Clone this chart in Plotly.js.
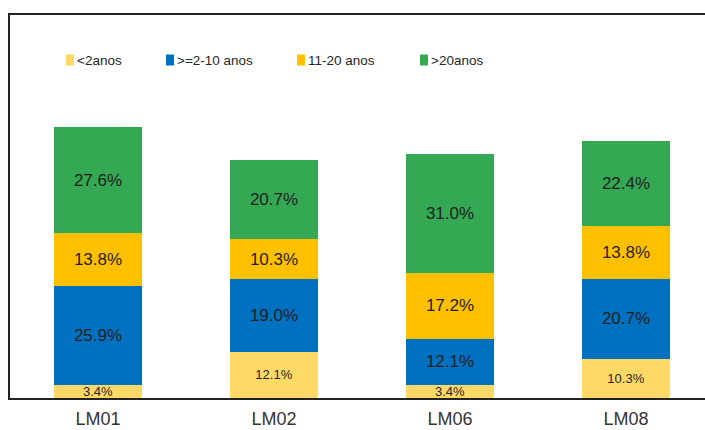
<!DOCTYPE html>
<html>
<head>
<meta charset="utf-8">
<script src="https://cdn.plot.ly/plotly-3.0.1.min.js"></script>
<style>
  html, body { margin: 0; padding: 0; background: #ffffff; }
  #chart { width: 705px; height: 430px; }
</style>
</head>
<body>
<div id="chart"></div>
<script>
// Sites and the share of staff in each length-of-service band (%)
const sites = ['LM01', 'LM02', 'LM06', 'LM08'];
const seriesNames = ['<2anos', '>=2-10 anos', '11-20 anos', '>20anos'];
const under2 = [3.4, 12.1, 3.4, 10.3];
const from2to10 = [25.9, 19.0, 12.1, 20.7];
const from11to20 = [13.8, 10.3, 17.2, 13.8];
const over20 = [27.6, 20.7, 31.0, 22.4];

const seriesValues = [under2, from2to10, from11to20, over20];
const seriesColors = ['#FFD966', '#0070C0', '#FFC000', '#34A853'];
const labelSizes = [13, 17, 17, 17];

const FONT = '"Liberation Sans", Arial, sans-serif';

const traces = seriesValues.map((vals, i) => ({
  type: 'bar',
  name: seriesNames[i],
  x: sites,
  y: vals,
  width: 0.5,
  marker: { color: seriesColors[i], line: { width: 0 } },
  text: vals.map(v => v.toFixed(1) + '%'),
  texttemplate: '%{text}',
  textposition: 'inside',
  insidetextanchor: 'middle',
  textangle: 0,
  constraintext: 'none',
  cliponaxis: false,
  textfont: { family: FONT, size: labelSizes[i], color: '#1f1f1f' },
  hoverinfo: 'skip',
  showlegend: false
}));

// Legend row drawn above the bars: a small colour square followed by its label
const legendSquareX = [66, 166, 297, 420];   // left edge of each square, px
const legendY = 60;                           // row centre, px
const plotLeft = 10, plotRight = 705, plotTop = 15, plotBottom = 398;
const px2paperX = px => (px - plotLeft) / (plotRight - plotLeft);
const px2paperY = py => (plotBottom - py) / (plotBottom - plotTop);

const shapes = [];
const annotations = [];
seriesNames.forEach((name, i) => {
  const x0 = legendSquareX[i];
  shapes.push({
    type: 'rect', xref: 'paper', yref: 'paper',
    x0: px2paperX(x0), x1: px2paperX(x0 + 8),
    y0: px2paperY(legendY + 5.5), y1: px2paperY(legendY - 5.5),
    fillcolor: seriesColors[i], line: { width: 0 }
  });
  annotations.push({
    xref: 'paper', yref: 'paper',
    x: px2paperX(x0 + 9), y: px2paperY(legendY),
    xanchor: 'left', yanchor: 'middle',
    text: name, showarrow: false,
    font: { family: FONT, size: 13.5, color: '#262626' }
  });
});

const layout = {
  width: 705,
  height: 430,
  margin: { l: plotLeft, r: 0, t: plotTop, b: 430 - plotBottom, pad: 0 },
  paper_bgcolor: '#ffffff',
  plot_bgcolor: '#ffffff',
  barmode: 'stack',
  showlegend: false,
  xaxis: {
    type: 'category',
    range: [-0.5, 3.449],
    showline: true, mirror: true, linecolor: '#222222', linewidth: 2,
    showgrid: false, zeroline: false, ticks: '',
    ticklabelstandoff: 3,
    tickfont: { family: FONT, size: 18, color: '#333333' },
    fixedrange: true
  },
  yaxis: {
    range: [0, 100],
    showline: true, linecolor: '#222222', linewidth: 2,
    showgrid: false, zeroline: false, showticklabels: false, ticks: '',
    fixedrange: true
  },
  shapes: shapes,
  annotations: annotations,
  font: { family: FONT }
};

Plotly.newPlot('chart', traces, layout, { displayModeBar: false, staticPlot: true });
</script>
</body>
</html>
